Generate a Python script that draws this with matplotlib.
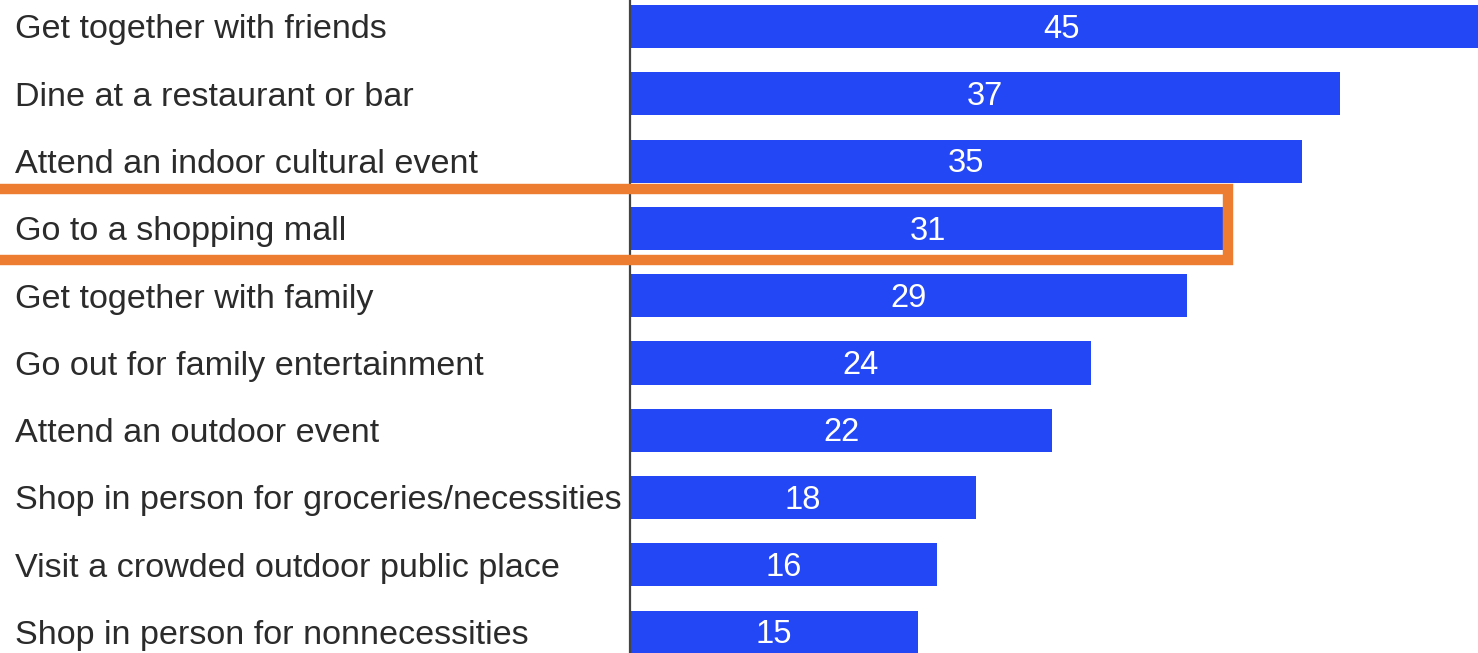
import matplotlib.pyplot as plt
from matplotlib.patches import Rectangle
from matplotlib.transforms import blended_transform_factory

plt.rcParams['font.family'] = ['Liberation Sans', 'DejaVu Sans']

activities = [
    "Get together with friends",
    "Dine at a restaurant or bar",
    "Attend an indoor cultural event",
    "Go to a shopping mall",
    "Get together with family",
    "Go out for family entertainment",
    "Attend an outdoor event",
    "Shop in person for groceries/necessities",
    "Visit a crowded outdoor public place",
    "Shop in person for nonnecessities",
]
percent = [45, 37, 35, 31, 29, 24, 22, 18, 16, 15]
highlight = "Go to a shopping mall"

bar_color = '#2447F6'
box_color = '#ED7D31'

fig = plt.figure(figsize=(14.78, 6.53), dpi=100)
ax = fig.add_axes([0, 0, 1, 1])

rows = list(range(len(activities)))
ax.barh(rows, percent, height=0.64, color=bar_color, zorder=2)

# value labels in the middle of each bar
for i, v in zip(rows, percent):
    ax.text(v / 2, i + 0.04, str(v), color='white', fontsize=23.5,
            ha='center', va='center', zorder=3)

# category labels, left aligned at the figure edge
trans = blended_transform_factory(fig.transFigure, ax.transData)
for i, name in zip(rows, activities):
    ax.text(15 / 1478, i + 0.05, name, transform=trans, color='#2b2b2b',
            fontsize=24.6, ha='left', va='center')

ax.axvline(0, color='#444444', linewidth=1.6, zorder=4)

# orange highlight box around one row
k = activities.index(highlight)
ax.add_patch(Rectangle((-40, k - 0.585), 40 + 31.15, 1.055, fill=False,
                       edgecolor=box_color, linewidth=7.5, zorder=5,
                       clip_on=False))

ax.set_xlim(-630 / 19.2, (1478 - 630) / 19.2)
ax.set_ylim(9.31, -0.394)
ax.axis('off')

fig.savefig('out.png', dpi=100)
plt.close()
